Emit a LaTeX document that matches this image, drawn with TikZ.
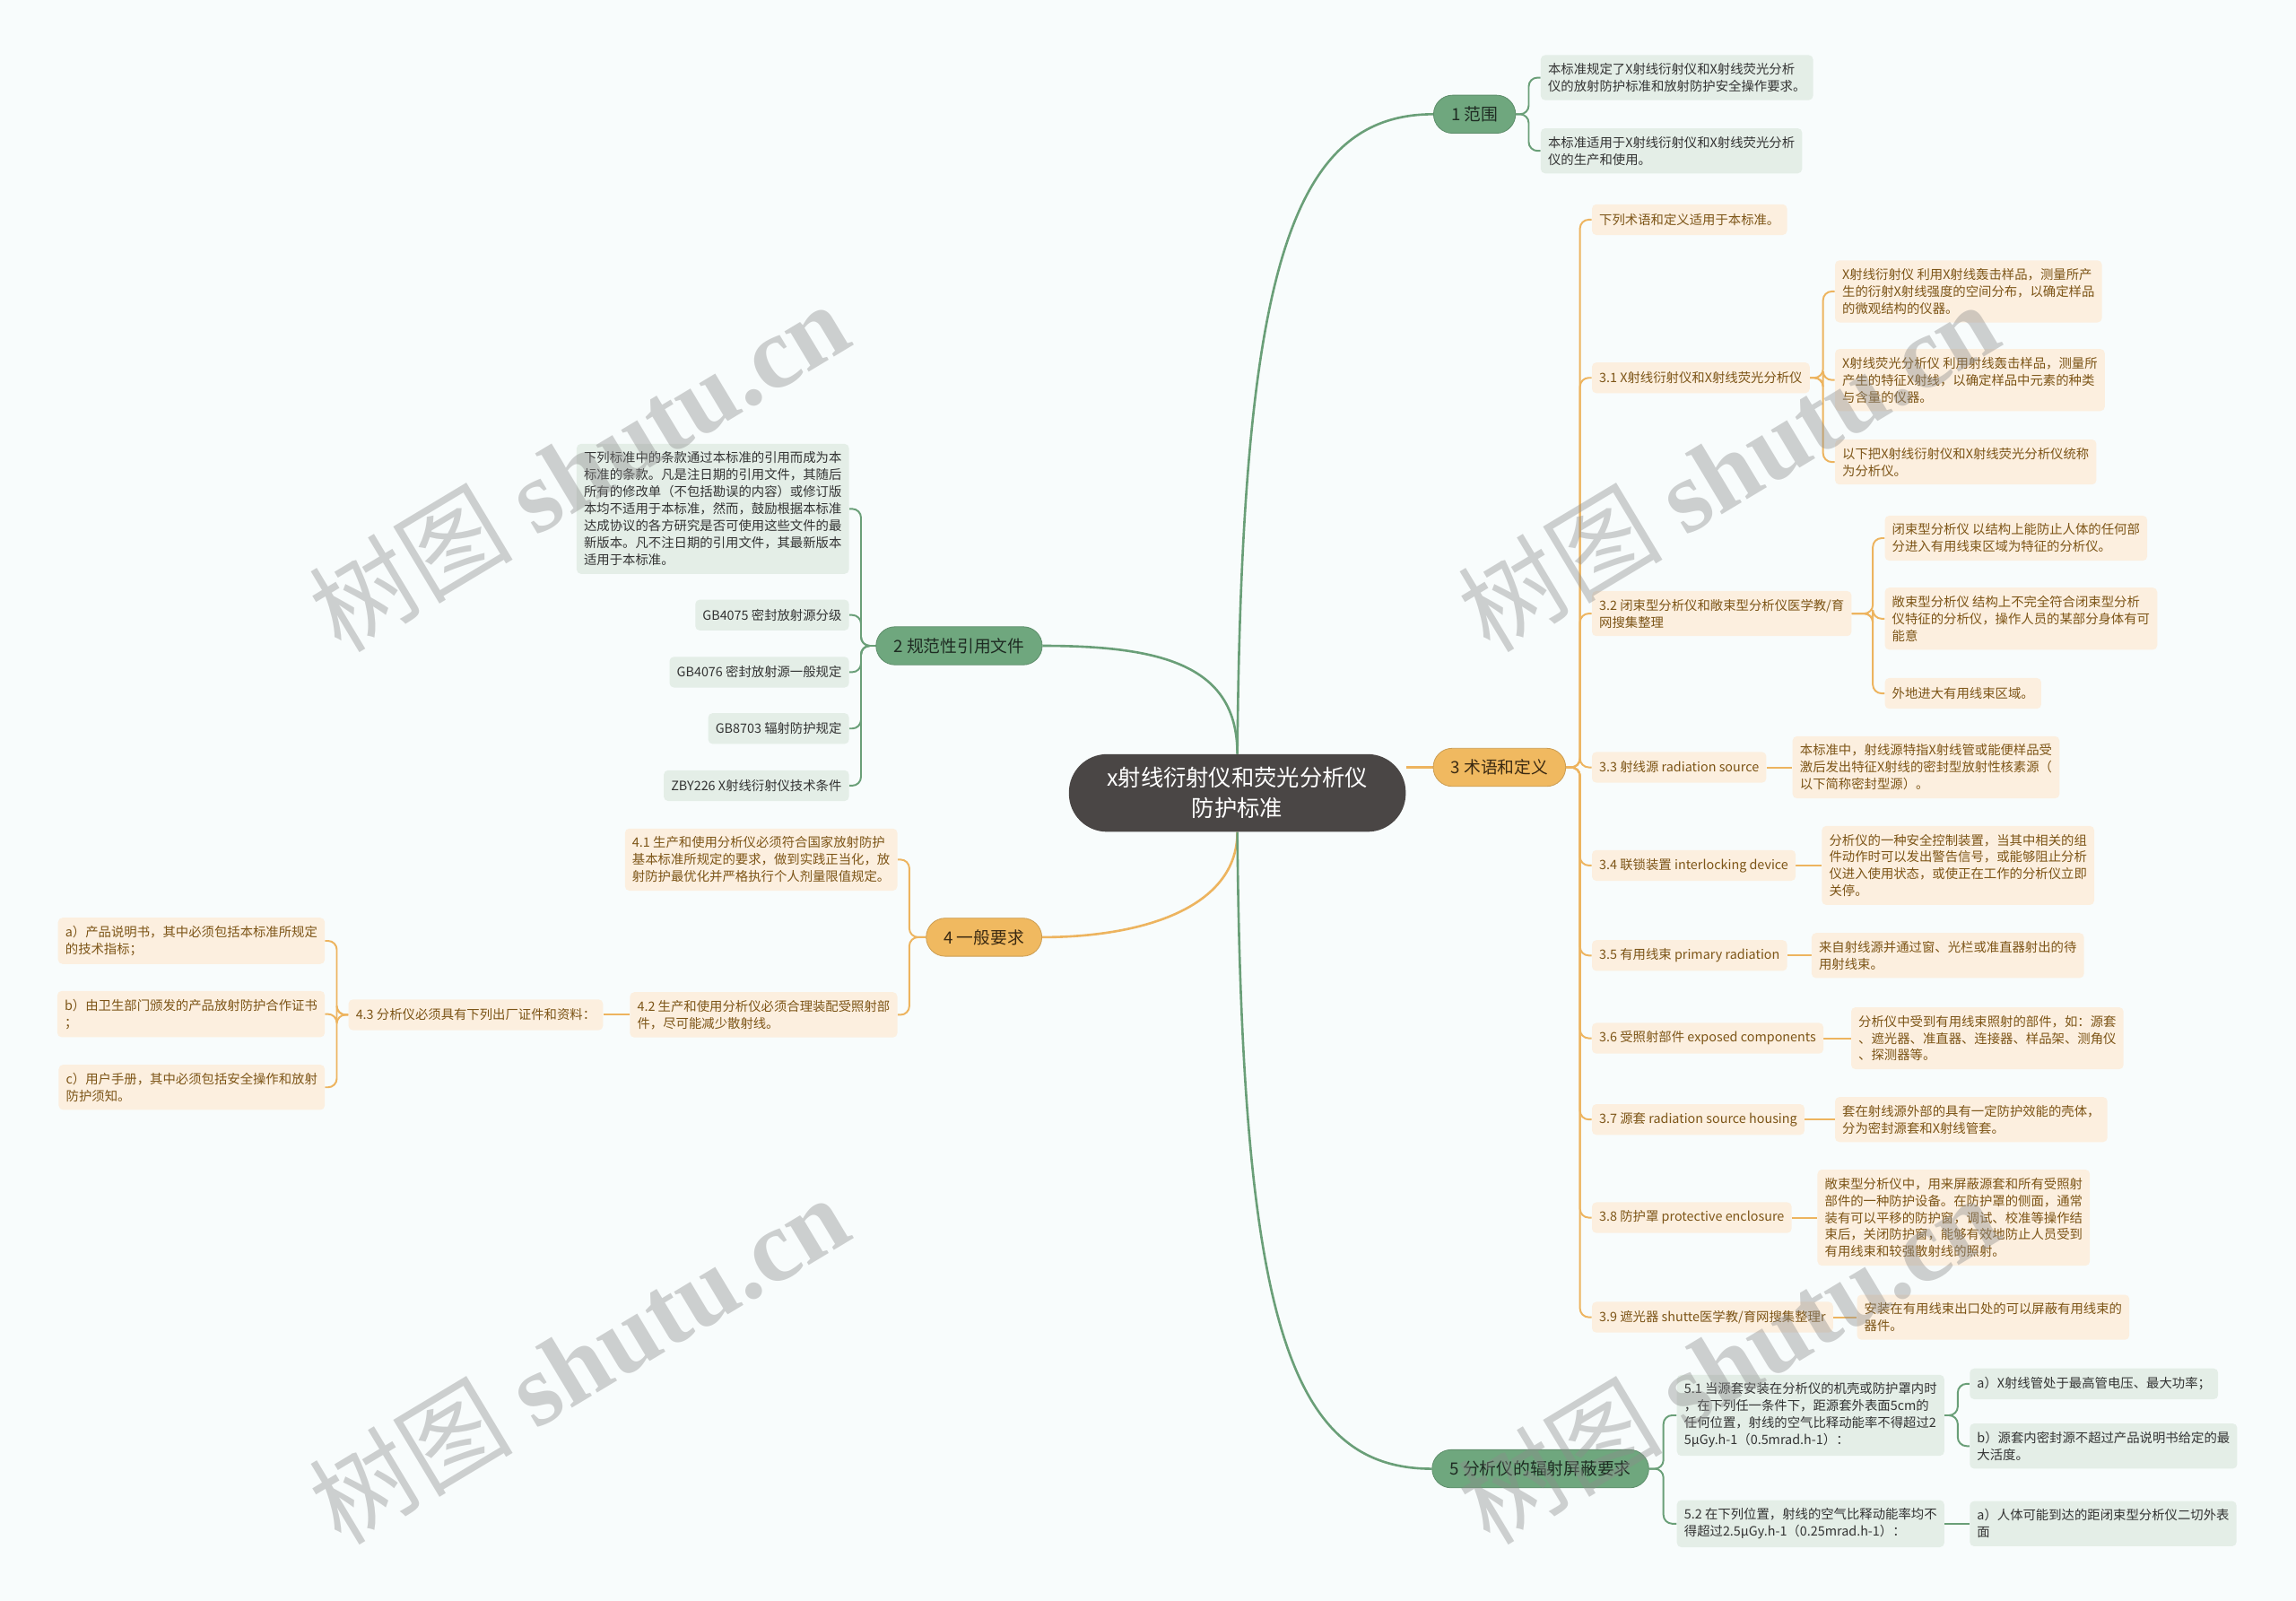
\documentclass[tikz,border=0pt]{standalone}
\usepackage{fontspec}
\setmainfont{Noto Sans CJK SC}
\newfontfamily\wmlatin{Liberation Serif}
\usetikzlibrary{positioning,backgrounds}
\definecolor{paper}{HTML}{F8FCFC}
\definecolor{coregrey}{HTML}{4A4645}
\definecolor{grbranch}{HTML}{6FA77E}
\definecolor{grink}{HTML}{1E2B22}
\definecolor{grline}{HTML}{6A9F78}
\definecolor{grleaf}{HTML}{E4EEE7}
\definecolor{grtext}{HTML}{333333}
\definecolor{orbranch}{HTML}{F0B960}
\definecolor{orink}{HTML}{3B2A12}
\definecolor{orline}{HTML}{EDB45F}
\definecolor{orleaf}{HTML}{FCEFDF}
\definecolor{ortext}{HTML}{7D5517}
\begin{document}
\begin{tikzpicture}
    [   x=1pt, y=-1pt,
        core/.style={fill=coregrey,text=white,rounded corners=26pt,minimum width=230pt,minimum height=53pt,align=center,font=\fontsize{15.5}{21}\selectfont},
        branch/.style={fill=#1branch,draw=#1branch!85!black,line width=.5pt,text=#1ink,rounded corners=13pt,minimum height=26pt,inner xsep=12pt,inner ysep=0pt,font=\fontsize{11.5}{14}\selectfont},
        leaf/.style={fill=#1leaf,text=#1text,rounded corners=3pt,align=left,inner xsep=5pt,inner ysep=5.5pt,minimum height=21pt,font=\fontsize{8.8}{11.6}\selectfont},
        wire/.style={draw=#1line,line width=1.2pt,rounded corners=6pt},
        trunk/.style={draw=#1line,line width=1.6pt},
        wmark/.style={rotate=31,text=black!45,text opacity=.4,font=\fontsize{70}{70}\selectfont},
    ]
    \useasboundingbox (0,0) rectangle (1568,1093);
    % centre and main branches
    \node[core] (core) at (845,541.5) {x射线衍射仪和荧光分析仪\\防护标准};
    \node[branch=gr] (n1) at (1007,78) {1 范围};
    \node[branch=gr] (n2) at (655,441) {2 规范性引用文件};
    \node[branch=or] (n3) at (1024,524) {3 术语和定义};
    \node[branch=or] (n4) at (672,640) {4 一般要求};
    \node[branch=gr] (n5) at (1052,1003) {5 分析仪的辐射屏蔽要求};

    % 1
    \node[leaf=gr,anchor=west] (r1a) at (1052,53) {本标准规定了X射线衍射仪和X射线荧光分析\\仪的放射防护标准和放射防护安全操作要求。};
    \node[leaf=gr,anchor=west] (r1b) at (1052,103) {本标准适用于X射线衍射仪和X射线荧光分析\\仪的生产和使用。};

    % 2
    \node[leaf=gr,anchor=east] (r2a) at (580,347.5) {下列标准中的条款通过本标准的引用而成为本\\标准的条款。凡是注日期的引用文件，其随后\\所有的修改单（不包括勘误的内容）或修订版\\本均不适用于本标准，然而，鼓励根据本标准\\达成协议的各方研究是否可使用这些文件的最\\新版本。凡不注日期的引用文件，其最新版本\\适用于本标准。};
    \foreach \lbl/\yy [count=\i] in {GB4075 密封放射源分级/420,GB4076 密封放射源一般规定/459,GB8703 辐射防护规定/497.5,ZBY226 X射线衍射仪技术条件/536.5}
        \node[leaf=gr,anchor=east] (ref-\i) at (580,\yy) {\lbl};

    % 3
    \node[leaf=or,anchor=west] (t0) at (1087,150) {下列术语和定义适用于本标准。};
    \node[leaf=or,anchor=west] (t31) at (1087,258) {3.1 X射线衍射仪和X射线荧光分析仪};
    \node[leaf=or,anchor=west] (d31a) at (1253,199) {X射线衍射仪 利用X射线轰击样品，测量所产\\生的衍射X射线强度的空间分布，以确定样品\\的微观结构的仪器。};
    \node[leaf=or,anchor=west] (d31b) at (1253,259.5) {X射线荧光分析仪 利用射线轰击样品，测量所\\产生的特征X射线，以确定样品中元素的种类\\与含量的仪器。};
    \node[leaf=or,anchor=west] (d31c) at (1253,315.5) {以下把X射线衍射仪和X射线荧光分析仪统称\\为分析仪。};
    \node[leaf=or,anchor=west] (t32) at (1087,419) {3.2 闭束型分析仪和敞束型分析仪医学教/育\\网搜集整理};
    \node[leaf=or,anchor=west] (d32a) at (1287,367.5) {闭束型分析仪 以结构上能防止人体的任何部\\分进入有用线束区域为特征的分析仪。};
    \node[leaf=or,anchor=west] (d32b) at (1287,422.5) {敞束型分析仪 结构上不完全符合闭束型分析\\仪特征的分析仪，操作人员的某部分身体有可\\能意};
    \node[leaf=or,anchor=west] (d32c) at (1287,473.5) {外地进大有用线束区域。};
    \node[leaf=or,anchor=west] (t33) at (1087,524) {3.3 射线源 radiation source};
    \node[leaf=or,anchor=west] (d33) at (1224,524) {本标准中，射线源特指X射线管或能便样品受\\激后发出特征X射线的密封型放射性核素源（\\以下简称密封型源）。};
    \node[leaf=or,anchor=west] (t34) at (1087,591) {3.4 联锁装置 interlocking device};
    \node[leaf=or,anchor=west] (d34) at (1244,591) {分析仪的一种安全控制装置，当其中相关的组\\件动作时可以发出警告信号，或能够阻止分析\\仪进入使用状态，或使正在工作的分析仪立即\\关停。};
    \node[leaf=or,anchor=west] (t35) at (1087,652.5) {3.5 有用线束 primary radiation};
    \node[leaf=or,anchor=west] (d35) at (1237,652.5) {来自射线源并通过窗、光栏或准直器射出的待\\用射线束。};
    \node[leaf=or,anchor=west] (t36) at (1087,709) {3.6 受照射部件 exposed components};
    \node[leaf=or,anchor=west] (d36) at (1264,709) {分析仪中受到有用线束照射的部件，如：源套\\、遮光器、准直器、连接器、样品架、测角仪\\、探测器等。};
    \node[leaf=or,anchor=west] (t37) at (1087,764.5) {3.7 源套 radiation source housing};
    \node[leaf=or,anchor=west] (d37) at (1253,764.5) {套在射线源外部的具有一定防护效能的壳体，\\分为密封源套和X射线管套。};
    \node[leaf=or,anchor=west] (t38) at (1087,831.5) {3.8 防护罩 protective enclosure};
    \node[leaf=or,anchor=west] (d38) at (1241,831.5) {敞束型分析仪中，用来屏蔽源套和所有受照射\\部件的一种防护设备。在防护罩的侧面，通常\\装有可以平移的防护窗，调试、校准等操作结\\束后，关闭防护窗，能够有效地防止人员受到\\有用线束和较强散射线的照射。};
    \node[leaf=or,anchor=west] (t39) at (1087,899.5) {3.9 遮光器 shutte医学教/育网搜集整理r};
    \node[leaf=or,anchor=west] (d39) at (1268,899.5) {安装在有用线束出口处的可以屏蔽有用线束的\\器件。};

    % 4
    \node[leaf=or,anchor=east] (g41) at (613,587) {4.1 生产和使用分析仪必须符合国家放射防护\\基本标准所规定的要求，做到实践正当化，放\\射防护最优化并严格执行个人剂量限值规定。};
    \node[leaf=or,anchor=east] (g42) at (613,693) {4.2 生产和使用分析仪必须合理装配受照射部\\件，尽可能减少散射线。};
    \node[leaf=or,anchor=east] (g43) at (412,693) {4.3 分析仪必须具有下列出厂证件和资料：};
    \node[leaf=or,anchor=east] (g43a) at (222,642.5) {a）产品说明书，其中必须包括本标准所规定\\的技术指标；};
    \node[leaf=or,anchor=east] (g43b) at (222,692.5) {b）由卫生部门颁发的产品放射防护合作证书\\；};
    \node[leaf=or,anchor=east] (g43c) at (222,742.5) {c）用户手册，其中必须包括安全操作和放射\\防护须知。};

    % 5
    \node[leaf=gr,anchor=west] (s51) at (1145,966.5) {5.1 当源套安装在分析仪的机壳或防护罩内时\\，在下列任一条件下，距源套外表面5cm的\\任何位置，射线的空气比释动能率不得超过2\\5μGy.h-1（0.5mrad.h-1）：};
    \node[leaf=gr,anchor=west] (s51a) at (1345,945) {a）X射线管处于最高管电压、最大功率；};
    \node[leaf=gr,anchor=west] (s51b) at (1345,987.5) {b）源套内密封源不超过产品说明书给定的最\\大活度。};
    \node[leaf=gr,anchor=west] (s52) at (1145,1040.5) {5.2 在下列位置，射线的空气比释动能率均不\\得超过2.5μGy.h-1（0.25mrad.h-1）：};
    \node[leaf=gr,anchor=west] (s52a) at (1345,1040.5) {a）人体可能到达的距闭束型分析仪二切外表\\面};

    % junctions
    \coordinate (j1) at (1044,78);
    \coordinate (j2) at (588,441);
    \coordinate (j3) at (1079,524);
    \coordinate (j31) at (1245,258);
    \coordinate (j32) at (1279,419);
    \coordinate (j4) at (621,640);
    \coordinate (j43) at (230,693);
    \coordinate (j5) at (1136,1003);
    \coordinate (j51) at (1337,966.5);

    \begin{scope}[on background layer]
        \fill[paper] (0,0) rectangle (1568,1093);
        \draw[trunk=gr] (core.north) .. controls (848,190) and (880,78) .. (n1.west);
        \draw[trunk=gr] (n2.east) .. controls (795,441) and (845,455) .. (core.north);
        \draw[trunk=or] (n3.west) -- (n3.west -| core.east);
        \draw[trunk=or] (core.south) .. controls (845,620) and (780,640) .. (n4.east);
        \draw[trunk=gr] (core.south) .. controls (848,900) and (880,1003) .. (n5.west);
        \foreach \t in {r1a,r1b}
            \draw[wire=gr] (n1.east) -- (j1) |- (\t.west);
        \foreach \t in {r2a,ref-1,ref-2,ref-3,ref-4}
            \draw[wire=gr] (n2.west) -- (j2) |- (\t.east);
        \foreach \t in {t0,t31,t32,t33,t34,t35,t36,t37,t38,t39}
            \draw[wire=or] (n3.east) -- (j3) |- (\t.west);
        \foreach \t in {d31a,d31b,d31c}
            \draw[wire=or] (t31.east) -- (j31) |- (\t.west);
        \foreach \t in {d32a,d32b,d32c}
            \draw[wire=or] (t32.east) -- (j32) |- (\t.west);
        \foreach \t in {33,34,35,36,37,38,39}
            \draw[wire=or] (t\t.east) -- (d\t.west);
        \foreach \t in {g41,g42}
            \draw[wire=or] (n4.west) -- (j4) |- (\t.east);
        \draw[wire=or] (g42.west) -- (g43.east);
        \foreach \t in {g43a,g43b,g43c}
            \draw[wire=or] (g43.west) -- (j43) |- (\t.east);
        \foreach \t in {s51,s52}
            \draw[wire=gr] (n5.east) -- (j5) |- (\t.west);
        \foreach \t in {s51a,s51b}
            \draw[wire=gr] (s51.east) -- (j51) |- (\t.west);
        \draw[wire=gr] (s52.east) -- (s52a.west);
    \end{scope}

    % watermark
    \foreach \wx/\wy [count=\w] in {395/318,395/928,1180/318,1180/928}
        \node[wmark] (wm-\w) at (\wx,\wy) {树图 {\wmlatin\bfseries shutu.cn}};
\end{tikzpicture}
\end{document}
